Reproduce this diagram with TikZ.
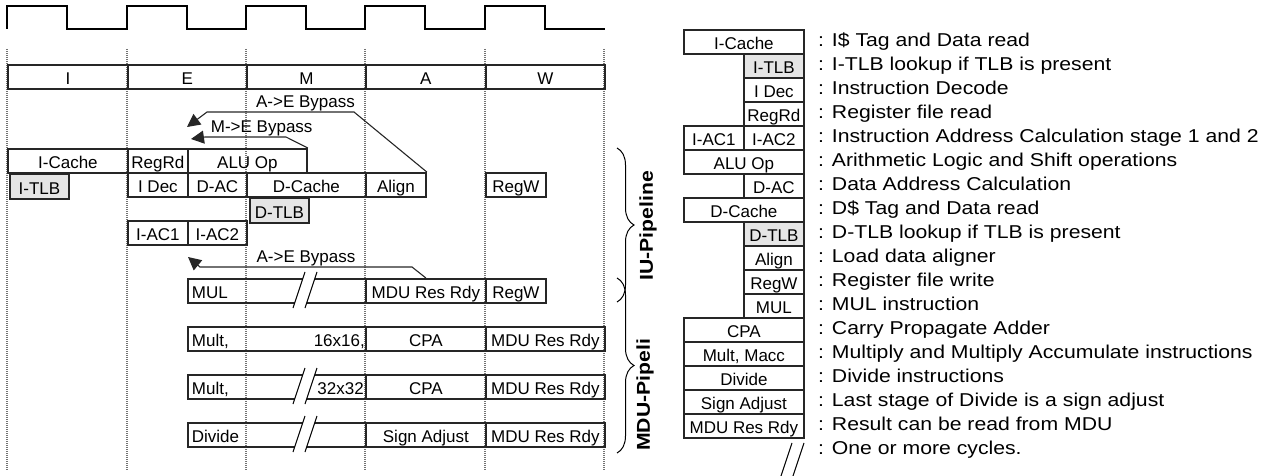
\documentclass[tikz,border=0pt]{standalone}
\usepackage{fontspec}
\setmainfont{Liberation Sans}
\newfontfamily\lgdfont[FakeStretch=1.14]{Liberation Sans}
\usetikzlibrary{arrows.meta,decorations.pathreplacing}

\begin{document}
\begin{tikzpicture}[x=1pt, y=-1pt,
    box/.style={draw=black!85, line width=1.8pt, inner sep=0pt, anchor=north west,
        minimum height=24, text height=16pt, text depth=0pt, font={\fontsize{17}{20}\selectfont}},
    tlb/.style={box, fill=black!10, minimum height=25},
    mdu/.style={box, minimum width=178, text width=170pt, align=left, inner xsep=4pt},
    rtxt/.style={anchor=base east, inner sep=0pt, font={\fontsize{17}{20}\selectfont}},
    lbl/.style={above, inner sep=0.5pt, font={\fontsize{17}{20}\selectfont}},
    lgd/.style={anchor=base west, inner sep=0pt, font={\lgdfont\fontsize{18.6}{22}\selectfont}},
    byp/.style={draw=black!85, line width=1.1pt, -{Triangle[length=13pt,width=13pt]}},
    stageline/.style={draw=black!55, line width=2pt, dash pattern=on 1pt off 1pt},
    brc/.style={draw, line width=1pt, decorate, decoration={brace, amplitude=17pt}},
    side/.style={rotate=90, font={\lgdfont\bfseries\fontsize{18.6}{22}\selectfont}},
    brk/.pic={
        \fill[white] (0,30) -- (12,-6) -- (24,-6) -- (12,30) -- cycle;
        \draw[line width=1pt] (0,30) -- (12,-6) (12,30) -- (24,-6);
    }]
    \useasboundingbox (0,0) rectangle (1272,476);

    % clock
    \draw[line width=2pt] (7,29) -- (7,6) -- (67,6) -- (67,29) -- (127,29) -- (127,6) -- (187,6) -- (187,29)
        -- (246,29) -- (246,6) -- (306,6) -- (306,29) -- (365,29) -- (365,6) -- (425,6) -- (425,29)
        -- (485,29) -- (485,6) -- (545,6) -- (545,29) -- (605,29);

    % stage boundaries
    \draw[stageline] (7,49) -- (7,470) (127,49) -- (127,470) (246,49) -- (246,470)
        (365,49) -- (365,470) (485,49) -- (485,470) (604,49) -- (604,470);

    % stages
    \node[box, minimum width=120] (sti) at (7,64) {I};
    \node[box, minimum width=119] (ste) at (127,64) {E};
    \node[box, minimum width=119] (stm) at (246,64) {M};
    \node[box, minimum width=120] (sta) at (365,64) {A};
    \node[box, minimum width=119] (stw) at (485,64) {W};

    % IU pipeline
    \node[box, minimum width=120] (icache) at (7,148) {I-Cache};
    \node[box, minimum width=60] (regrd) at (127,148) {RegRd};
    \node[box, minimum width=119] (aluop) at (187,148) {ALU Op};
    \node[tlb, minimum width=59] (itlb) at (9,173) {I-TLB};
    \node[box, minimum width=60] (idec) at (127,172) {I Dec};
    \node[box, minimum width=59] (dac) at (187,172) {D-AC};
    \node[box, minimum width=119] (dcache) at (246,172) {D-Cache};
    \node[box, minimum width=60] (align) at (365,172) {Align};
    \node[box, minimum width=60] (regw) at (485,172) {RegW};
    \node[tlb, minimum width=59] (dtlb) at (249,197) {D-TLB};
    \node[box, minimum width=60] (iac1) at (127,220) {I-AC1};
    \node[box, minimum width=59] (iac2) at (187,220) {I-AC2};

    % MDU pipeline
    \node[mdu] (mul) at (187,278) {MUL};
    \node[box, minimum width=120] (mres1) at (365,278) {MDU Res Rdy};
    \node[box, minimum width=60] (regw2) at (485,278) {RegW};
    \pic at (293,278) {brk};

    \node[mdu] (mult1) at (187,326) {Mult,};
    \node[rtxt] (n16) at (365,346) {16x16,};
    \node[box, minimum width=120] (cpa1) at (365,326) {CPA};
    \node[box, minimum width=119] (mres2) at (485,326) {MDU Res Rdy};

    \node[mdu] (mult2) at (187,374) {Mult,};
    \pic at (293,374) {brk};
    \node[rtxt] (n32) at (364,394) {32x32};
    \node[box, minimum width=120] (cpa2) at (365,374) {CPA};
    \node[box, minimum width=119] (mres3) at (485,374) {MDU Res Rdy};

    \node[mdu] (div) at (187,422) {Divide};
    \pic at (293,422) {brk};
    \node[box, minimum width=120] (sadj) at (365,422) {Sign Adjust};
    \node[box, minimum width=119] (mres4) at (485,422) {MDU Res Rdy};

    % bypasses
    \coordinate (aeu) at (187,127);
    \coordinate (me) at (191,139);
    \coordinate (ael) at (188,257);
    \draw[byp] (align.north east) -- (354,112) -- node[lbl, pos=0.33] (lblaeu) {A->E Bypass} (207,112) -- (aeu);
    \draw[byp] (aluop.north east) -- (286,137) -- node[lbl, pos=0.3] (lblme) {M->E Bypass} (205,137) -- (me);
    \draw[byp] (mres1.north) -- (412,267) -- node[lbl, pos=0.5] (lblael) {A->E Bypass} (200,267) -- (ael);

    % braces
    \coordinate (iutop) at (617,148);
    \coordinate (iubot) at (617,302);
    \coordinate (mdutop) at (617,278);
    \coordinate (mdubot) at (617,453);
    \draw[brc] (iutop) -- (iubot);
    \draw[brc] (mdutop) -- (mdubot);
    \node[side] (iulbl) at (648,226) {IU-Pipeline};
    \node[side] (mdulbl) at (645,395) {MDU-Pipeli};

    % legend
    \node[box, minimum width=120] (lic) at (683,29) {I-Cache};
    \node[tlb, minimum height=24, minimum width=60] (litlb) at (743,53) {I-TLB};
    \node[box, minimum width=60] (lidec) at (743,77) {I Dec};
    \node[box, minimum width=60] (lregrd) at (743,101) {RegRd};
    \node[box, minimum width=60] (liac1) at (683,125) {I-AC1};
    \node[box, minimum width=60] (liac2) at (743,125) {I-AC2};
    \node[box, minimum width=120] (lalu) at (683,149) {ALU Op};
    \node[box, minimum width=60] (ldac) at (743,173) {D-AC};
    \node[box, minimum width=120] (ldc) at (683,197) {D-Cache};
    \node[tlb, minimum height=24, minimum width=60] (ldtlb) at (743,221) {D-TLB};
    \node[box, minimum width=60] (lalign) at (743,245) {Align};
    \node[box, minimum width=60] (lregw) at (743,269) {RegW};
    \node[box, minimum width=60] (lmul) at (743,293) {MUL};
    \node[box, minimum width=120] (lcpa) at (683,317) {CPA};
    \node[box, minimum width=120] (lmult) at (683,341) {Mult, Macc};
    \node[box, minimum width=120] (ldiv) at (683,365) {Divide};
    \node[box, minimum width=120] (lsadj) at (683,389) {Sign Adjust};
    \node[box, minimum width=120] (lmres) at (683,413) {MDU Res Rdy};
    \pic at (780,449) {brk};

    \node[lgd] (d1) at (818,46.5) {: I\$ Tag and Data read};
    \node[lgd] (d2) at (818,70.5) {: I-TLB lookup if TLB is present};
    \node[lgd] (d3) at (818,94.5) {: Instruction Decode};
    \node[lgd] (d4) at (818,118.5) {: Register file read};
    \node[lgd] (d5) at (818,142.5) {: Instruction Address Calculation stage 1 and 2};
    \node[lgd] (d6) at (818,166.5) {: Arithmetic Logic and Shift operations};
    \node[lgd] (d7) at (818,190.5) {: Data Address Calculation};
    \node[lgd] (d8) at (818,214.5) {: D\$ Tag and Data read};
    \node[lgd] (d9) at (818,238.5) {: D-TLB lookup if TLB is present};
    \node[lgd] (d10) at (818,262.5) {: Load data aligner};
    \node[lgd] (d11) at (818,286.5) {: Register file write};
    \node[lgd] (d12) at (818,310.5) {: MUL instruction};
    \node[lgd] (d13) at (818,334.5) {: Carry Propagate Adder};
    \node[lgd] (d14) at (818,358.5) {: Multiply and Multiply Accumulate instructions};
    \node[lgd] (d15) at (818,382.5) {: Divide instructions};
    \node[lgd] (d16) at (818,406.5) {: Last stage of Divide is a sign adjust};
    \node[lgd] (d17) at (818,430.5) {: Result can be read from MDU};
    \node[lgd] (d18) at (818,454.5) {: One or more cycles.};
\end{tikzpicture}
\end{document}
